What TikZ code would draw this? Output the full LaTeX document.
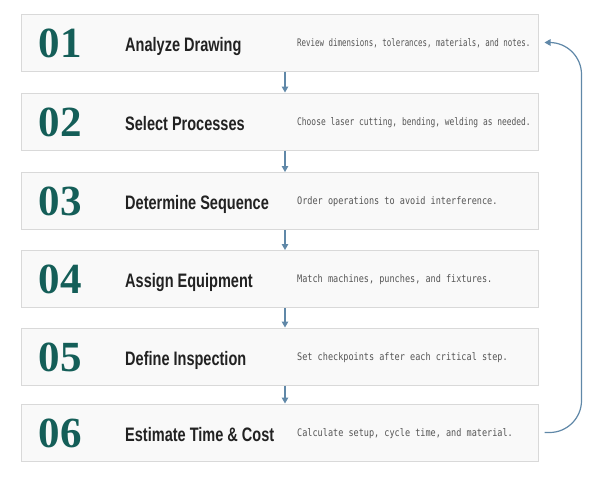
\documentclass[tikz,border=0pt]{standalone}
\usepackage{fontspec}
\setmainfont{Liberation Serif}
\newfontfamily\numfont{Liberation Serif}
\newfontfamily\titlefont[FakeStretch=0.745]{Liberation Sans}
\newfontfamily\descfont[FakeStretch=0.82]{DejaVu Sans Mono}
\usetikzlibrary{calc,arrows.meta}
\definecolor{boxfill}{HTML}{F9F9F9}
\definecolor{boxline}{HTML}{D9D9D9}
\definecolor{numcol}{HTML}{145E58}
\definecolor{titlecol}{HTML}{222222}
\definecolor{desccol}{HTML}{555555}
\definecolor{arrcol}{HTML}{6088A8}
\tikzset{
  stepbox/.style={draw=boxline, fill=boxfill, line width=1pt, minimum width=517pt, minimum height=57pt, inner sep=0pt},
  numtxt/.style={anchor=base west, inner sep=0pt, text=numcol, font=\numfont\bfseries\fontsize{43}{43}\selectfont},
  titletxt/.style={anchor=base west, inner sep=0pt, text=titlecol, font=\titlefont\bfseries\fontsize{19.5}{20}\selectfont},
  desctxt/.style={anchor=base west, inner sep=0pt, text=desccol, font=\descfont\fontsize{10.4}{11}\selectfont},
  arr/.style={draw=arrcol, line width=1.2pt, -{Triangle[length=6pt,width=6.5pt]}},
}
\begin{document}
\begin{tikzpicture}[x=1pt,y=-1pt]
\useasboundingbox[fill=white] (0,0) rectangle (600,480);
\foreach \i/\cy/\num/\ttl/\dsc in {
  1/42.5/01/Analyze Drawing/{\scalebox{0.873}[1]{Review dimensions, tolerances, materials, and notes.}},
  2/121.5/02/Select Processes/{\scalebox{0.928}[1]{Choose laser cutting, bending, welding as needed.}},
  3/201/03/Determine Sequence/{Order operations to avoid interference.},
  4/279/04/Assign Equipment/{Match machines, punches, and fixtures.},
  5/356.5/05/Define Inspection/{Set checkpoints after each critical step.},
  6/432.5/06/Estimate Time \& Cost/{Calculate setup, cycle time, and material.}}
{
  \node[stepbox] (b\i) at (279.5,\cy) {};
  \node[numtxt] (n\i) at ($(b\i.west)+(18,14.5)$) {\num};
  \node[titletxt] (t\i) at ($(b\i.west)+(104.5,8.5)$) {\ttl};
  \node[desctxt] (d\i) at ($(b\i.west)+(276.5,3.6)$) {\dsc};
}
\foreach \i/\j in {1/2,2/3,3/4,4/5,5/6}
  \draw[arr] ($(b\i.south)+(5.5,0)$) -- ($(b\j.north)+(5.5,0)$);
\coordinate (lstart) at ($(b6.east)+(6,0)$);
\coordinate (lend) at ($(b1.east)+(6,0)$);
\draw[arr, rounded corners=32pt] (lstart) -- ($(lstart)+(37,0)$) -- ($(lend)+(37,0)$) -- (lend);
\end{tikzpicture}
\end{document}
